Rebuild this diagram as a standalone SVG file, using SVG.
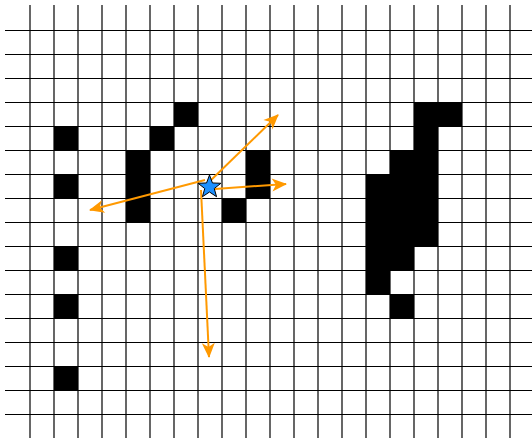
<svg xmlns="http://www.w3.org/2000/svg" width="532" height="438" viewBox="0 0 532 438">
<style>
.h{stroke:#000;stroke-width:1.2}
.v{stroke:#000;stroke-width:1.2}
.cell{fill:#000}
.arr{stroke:#FF9900;stroke-width:2;fill:none;marker-end:url(#ah)}
</style>
<defs>
<marker id="ah" markerUnits="userSpaceOnUse" markerWidth="20" markerHeight="16" viewBox="0 -8 16 16" refX="14" refY="0" orient="auto">
<path d="M0,-6.5 L15,0 L0,6.5 L4,0 z" fill="#FF9900"/>
</marker>
</defs>
<rect width="532" height="438" fill="#fff"/>
<g id="grid">
<g id="hlines">
<line class="h" x1="5" y1="30.5" x2="532" y2="30.5"/>
<line class="h" x1="5" y1="54.5" x2="532" y2="54.5"/>
<line class="h" x1="5" y1="78.5" x2="532" y2="78.5"/>
<line class="h" x1="5" y1="102.5" x2="532" y2="102.5"/>
<line class="h" x1="5" y1="126.5" x2="532" y2="126.5"/>
<line class="h" x1="5" y1="150.5" x2="532" y2="150.5"/>
<line class="h" x1="5" y1="174.5" x2="532" y2="174.5"/>
<line class="h" x1="5" y1="198.5" x2="532" y2="198.5"/>
<line class="h" x1="5" y1="222.5" x2="532" y2="222.5"/>
<line class="h" x1="5" y1="246.5" x2="532" y2="246.5"/>
<line class="h" x1="5" y1="270.5" x2="532" y2="270.5"/>
<line class="h" x1="5" y1="294.5" x2="532" y2="294.5"/>
<line class="h" x1="5" y1="318.5" x2="532" y2="318.5"/>
<line class="h" x1="5" y1="342.5" x2="532" y2="342.5"/>
<line class="h" x1="5" y1="366.5" x2="532" y2="366.5"/>
<line class="h" x1="5" y1="390.5" x2="532" y2="390.5"/>
<line class="h" x1="5" y1="414.5" x2="532" y2="414.5"/>
</g>
<g id="vlines">
<line class="v" x1="30" y1="5" x2="30" y2="438"/>
<line class="v" x1="54" y1="5" x2="54" y2="438"/>
<line class="v" x1="78" y1="5" x2="78" y2="438"/>
<line class="v" x1="102" y1="5" x2="102" y2="438"/>
<line class="v" x1="126" y1="5" x2="126" y2="438"/>
<line class="v" x1="150" y1="5" x2="150" y2="438"/>
<line class="v" x1="174" y1="5" x2="174" y2="438"/>
<line class="v" x1="198" y1="5" x2="198" y2="438"/>
<line class="v" x1="222" y1="5" x2="222" y2="438"/>
<line class="v" x1="246" y1="5" x2="246" y2="438"/>
<line class="v" x1="270" y1="5" x2="270" y2="438"/>
<line class="v" x1="294" y1="5" x2="294" y2="438"/>
<line class="v" x1="318" y1="5" x2="318" y2="438"/>
<line class="v" x1="342" y1="5" x2="342" y2="438"/>
<line class="v" x1="366" y1="5" x2="366" y2="438"/>
<line class="v" x1="390" y1="5" x2="390" y2="438"/>
<line class="v" x1="414" y1="5" x2="414" y2="438"/>
<line class="v" x1="438" y1="5" x2="438" y2="438"/>
<line class="v" x1="462" y1="5" x2="462" y2="438"/>
<line class="v" x1="486" y1="5" x2="486" y2="438"/>
<line class="v" x1="510" y1="5" x2="510" y2="438"/>
</g>
</g>
<g id="cells">
<rect class="cell" x="54" y="126" width="24" height="24"/>
<rect class="cell" x="54" y="174" width="24" height="24"/>
<rect class="cell" x="54" y="246" width="24" height="24"/>
<rect class="cell" x="54" y="294" width="24" height="24"/>
<rect class="cell" x="54" y="366" width="24" height="24"/>
<rect class="cell" x="126" y="150" width="24" height="72"/>
<rect class="cell" x="150" y="126" width="24" height="24"/>
<rect class="cell" x="174" y="102" width="24" height="24"/>
<rect class="cell" x="246" y="150" width="24" height="48"/>
<rect class="cell" x="222" y="198" width="24" height="24"/>
<path class="cell" d="M414,102 H462 V126 H438 V246 H414 V270 H390 V294 H366 V174 H390 V150 H414 Z"/>
<rect class="cell" x="390" y="294" width="24" height="24"/>
</g>
<g id="connectors">
<line class="arr" x1="207" y1="184" x2="278" y2="115"/>
<line class="arr" x1="215" y1="189" x2="286" y2="184"/>
<line class="arr" x1="205" y1="180" x2="90" y2="210"/>
<line class="arr" x1="201" y1="190" x2="209" y2="357"/>
</g>
<g id="star">
<polygon points="209.5,175 212.44,182.95 220.91,183.29 214.26,188.55 216.55,196.71 209.5,192 202.45,196.71 204.74,188.55 198.09,183.29 206.56,182.95" fill="#1E90FF" stroke="#000" stroke-width="1" stroke-linejoin="round"/>
</g>
</svg>
